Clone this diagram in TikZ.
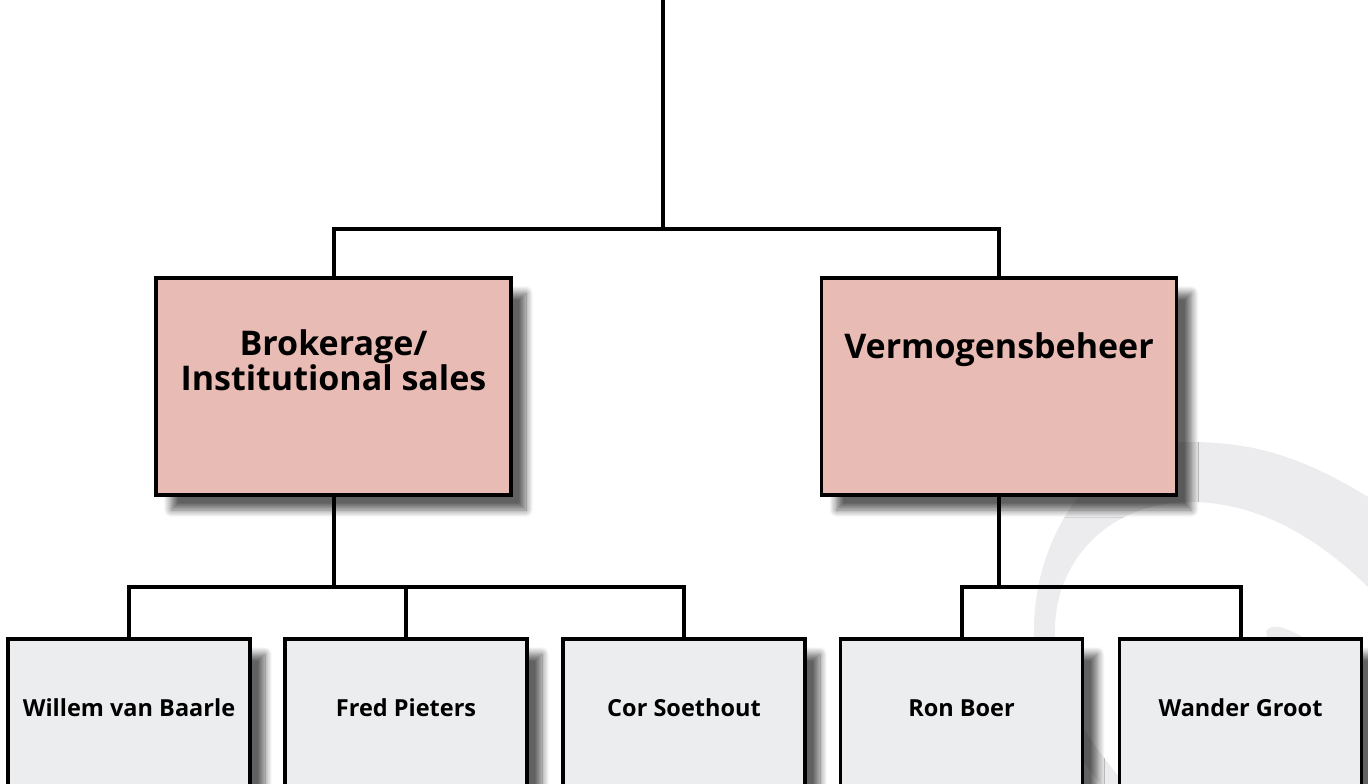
\documentclass[tikz,border=0pt]{standalone}
\usepackage{fontspec}
\setmainfont{Open Sans}
\usetikzlibrary{positioning,shadows.blur}
\definecolor{deptfill}{HTML}{E8BCB4}
\definecolor{namefill}{HTML}{ECEDEF}
\definecolor{swoosh}{HTML}{ECECEE}

\begin{document}
\begin{tikzpicture}[x=1pt,y=-1pt,
    box/.style={draw,line width=3.5pt,inner sep=0pt,
      blur shadow={shadow xshift=15pt,shadow yshift=-15pt,shadow blur radius=7pt,shadow blur steps=10,shadow opacity=62}},
    dept/.style={box,fill=deptfill,minimum width=355pt,minimum height=217pt},
    person/.style={box,fill=namefill,minimum width=242pt,minimum height=200pt},
    depttext/.style={font=\fontsize{34}{32}\selectfont\bfseries,align=center,anchor=base,inner sep=0pt},
    persontext/.style={font=\fontsize{23.5}{28}\selectfont\bfseries,anchor=base,inner sep=0pt},
    wire/.style={line width=4pt}]
      \useasboundingbox (0,0) rectangle (1368,784);
      \clip (0,0) rectangle (1368,784);

      % faint swoosh in the background
      \fill[swoosh] (1368,497) .. controls (1300,455) and (1250,442) .. (1190,442)
        .. controls (1090,442) and (1034,540) .. (1034,630)
        .. controls (1034,690) and (1070,745) .. (1100,784)
        -- (1125,784) .. controls (1080,730) and (1055,690) .. (1055,630)
        .. controls (1055,560) and (1110,502) .. (1190,502)
        .. controls (1260,502) and (1320,540) .. (1368,587) -- cycle;
      \fill[swoosh] (1266,631) .. controls (1272,622) and (1290,628) .. (1310,642) -- (1268,642) -- cycle;

      \path
      (663,0) coordinate(top)
      (663,229) coordinate(hub)
      (333.5,386.5) node[dept](brok) {}
      (999,386.5) node[dept](verm) {}
      (333.5,587) coordinate(lbus)
      (999,587) coordinate(rbus)
      (129,739) node[person](willem) {}
      (406,739) node[person](fred) {}
      (684,739) node[person](cor) {}
      (961.5,739) node[person](ron) {}
      (1240.5,739) node[person](wander) {}
      ;

      \node[depttext] (brokname) at ([yshift=-114pt]brok.north) {Brokerage/\\Institutional sales};
      \node[depttext] (vermname) at ([yshift=-82pt]verm.north) {Vermogensbeheer};
      \node[persontext] (willemname) at ([yshift=-79pt]willem.north) {Willem van Baarle};
      \node[persontext] (fredname) at ([yshift=-79pt]fred.north) {Fred Pieters};
      \node[persontext] (corname) at ([yshift=-79pt]cor.north) {Cor Soethout};
      \node[persontext] (ronname) at ([yshift=-79pt]ron.north) {Ron Boer};
      \node[persontext] (wandername) at ([yshift=-79pt]wander.north) {Wander Groot};

      \draw[wire] (top) -- (hub);
      \draw[wire] (brok.north) |- (hub) -| (verm.north);
      \draw[wire] (brok.south) -- (lbus);
      \draw[wire] (willem.north) |- (lbus) -| (cor.north);
      \draw[wire] (fred.north) -- (fred.north |- lbus);
      \draw[wire] (verm.south) -- (rbus);
      \draw[wire] (ron.north) |- (rbus) -| (wander.north);
    \end{tikzpicture}
\end{document}
